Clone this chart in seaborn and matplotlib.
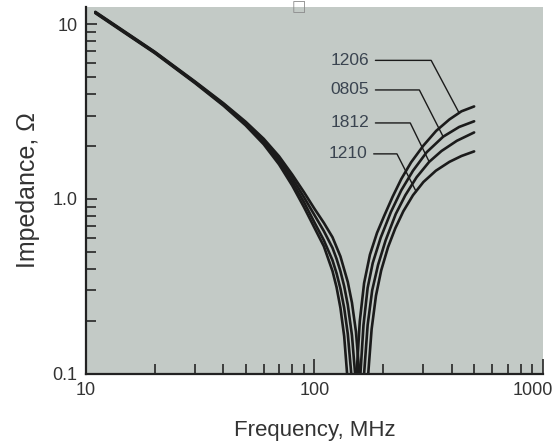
import numpy as np
import pandas as pd
import matplotlib
matplotlib.use("Agg")
import matplotlib.pyplot as plt
import matplotlib.transforms as mtransforms
import seaborn as sns

# capacitor case sizes (top curve at 500 MHz first)
parts = ["1206", "0805", "1812", "1210"]

# frequency (MHz) / impedance (ohm)
freq_1206 = [11, 15, 20, 30, 40, 50, 60, 70, 80, 90, 100, 110, 120, 125, 130, 135, 140, 143, 146,
             150, 153, 158, 165, 175, 188, 202, 220, 240, 265, 300, 341, 390, 440, 500]
imp_1206 = [11.55, 8.79, 6.83, 4.60, 3.415, 2.635, 2.053, 1.577, 1.192, 0.898, 0.685, 0.536, 0.387,
            0.313, 0.238, 0.164, 0.089, 0.045, 0.02,
            0.05, 0.1, 0.2, 0.33, 0.48, 0.64, 0.8, 1.03, 1.3, 1.62, 2.02, 2.45, 2.85, 3.17, 3.38]

freq_0805 = [11, 15, 20, 30, 40, 50, 60, 70, 80, 90, 100, 110, 120, 125, 130, 135, 140, 145, 149, 152,
             156, 159, 164, 171, 180, 195, 216, 240, 270, 310, 366, 430, 500]
imp_0805 = [11.62, 8.85, 6.87, 4.64, 3.45, 2.677, 2.099, 1.635, 1.251, 0.959, 0.735, 0.58, 0.446,
            0.376, 0.307, 0.238, 0.169, 0.1, 0.045, 0.02,
            0.05, 0.1, 0.19, 0.31, 0.43, 0.6, 0.84, 1.12, 1.45, 1.85, 2.27, 2.58, 2.78]

freq_1812 = [11, 15, 20, 30, 40, 50, 60, 70, 80, 90, 100, 110, 120, 125, 130, 135, 140, 146, 151, 155, 158,
             161, 165, 171, 179, 190, 205, 227, 250, 280, 318, 360, 420, 500]
imp_1812 = [11.68, 8.89, 6.91, 4.66, 3.49, 2.723, 2.161, 1.695, 1.315, 1.024, 0.81, 0.655, 0.525,
            0.455, 0.386, 0.317, 0.248, 0.166, 0.097, 0.041, 0.02,
            0.05, 0.1, 0.19, 0.3, 0.42, 0.58, 0.82, 1.05, 1.33, 1.63, 1.88, 2.15, 2.4]

freq_1210 = [11, 15, 20, 30, 40, 50, 60, 70, 80, 90, 100, 110, 120, 130, 140, 146, 152, 158, 162, 165,
             168, 172, 178, 186, 196, 210, 226, 245, 270, 300, 340, 390, 440, 500]
imp_1210 = [11.75, 8.95, 6.95, 4.70, 3.525, 2.765, 2.208, 1.755, 1.378, 1.094, 0.88, 0.73, 0.604,
            0.469, 0.335, 0.255, 0.174, 0.094, 0.04, 0.02,
            0.05, 0.1, 0.18, 0.28, 0.39, 0.53, 0.68, 0.85, 1.05, 1.25, 1.45, 1.63, 1.76, 1.87]

x_ticks = [10, 100, 1000]
x_tick_labels = ["10", "100", "1000"]
y_ticks = [0.1, 1.0, 10]
y_tick_labels = ["0.1", "1.0", "10"]

frames = []
for name, f, z in [("1206", freq_1206, imp_1206), ("0805", freq_0805, imp_0805),
                   ("1812", freq_1812, imp_1812), ("1210", freq_1210, imp_1210)]:
    frames.append(pd.DataFrame({"freq": f, "imp": z, "part": name}))
df = pd.concat(frames, ignore_index=True)

sns.set_style("ticks")
plt.rcParams["font.family"] = ["Liberation Sans", "DejaVu Sans"]

fig = plt.figure(figsize=(5.54, 4.45), dpi=100)
ax = fig.add_axes([0.155, 0.16, 0.825, 0.824])
ax.set_facecolor("#c3cac6")

sns.lineplot(data=df, x="freq", y="imp", units="part", estimator=None, sort=False,
             color="#1b1b1b", lw=1.9, ax=ax)

ax.set_xscale("log")
ax.set_yscale("log")
ax.set_xlim(10, 1000)
ax.set_ylim(0.1, 12.5)

ax.set_xticks(x_ticks)
ax.set_xticklabels(x_tick_labels)
ax.set_yticks(y_ticks)
ax.set_yticklabels(y_tick_labels)
ax.tick_params(which="major", direction="in", length=11, width=1.2, labelsize=13,
               labelcolor="#333333", pad=6)
ax.tick_params(which="minor", direction="in", length=7.5, width=1.2)
ax.tick_params(axis="y", which="major", length=8)

# last x label sits against the right edge in the source; nudge it inside
last = ax.get_xticklabels()[-1]
last.set_transform(last.get_transform() + mtransforms.ScaledTranslation(-7.5 / 72, 0, fig.dpi_scale_trans))

for s in ["top", "right"]:
    ax.spines[s].set_visible(False)
for s in ["left", "bottom"]:
    ax.spines[s].set_linewidth(1.6)
    ax.spines[s].set_color("#222222")

ax.set_xlabel("Frequency, MHz", fontsize=16, color="#333333", labelpad=15)
ax.set_ylabel("Impedance, \u03a9", fontsize=18, color="#333333", labelpad=9)

# curve labels with leader lines (text anchor, point on curve, angle of last leg)
labels = [
    ("1206", (174, 6.2), (430, 3.1), 118),
    ("0805", (174, 4.2), (366, 2.27), 117),
    ("1812", (174, 2.72), (318, 1.63), 116),
    ("1210", (171, 1.81), (279, 1.1), 117),
]
for text, txy, pxy, ang in labels:
    ax.annotate(text, xy=pxy, xytext=txy, ha="right", va="center",
                fontsize=12.5, color="#3a4450",
                arrowprops=dict(arrowstyle="-", color="#1b1b1b", lw=1.0,
                                shrinkA=2, shrinkB=0,
                                connectionstyle=f"angle,angleA=0,angleB={ang},rad=0"))

# stray box glyph above the plot in the source image
fig.text(0.54, 0.986, "\u25a1", fontsize=11, color="#8a8a8a", ha="center", va="center",
         family=["DejaVu Sans"])

fig.savefig("out.png", dpi=100)
